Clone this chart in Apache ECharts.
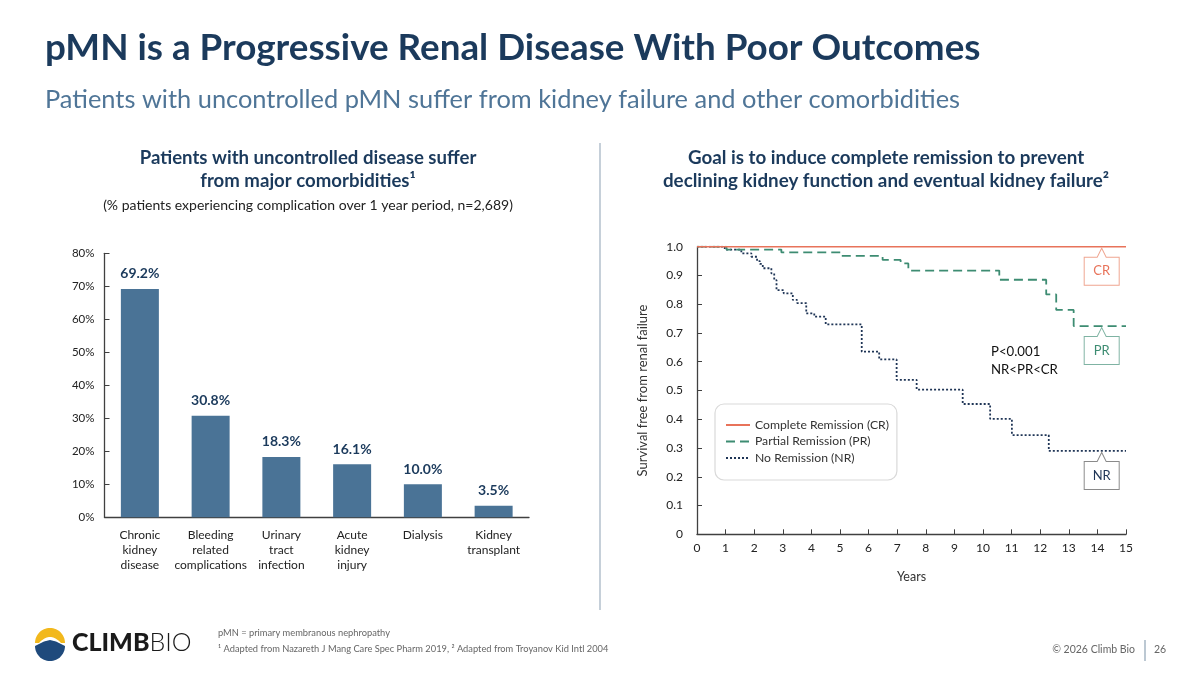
<!DOCTYPE html>
<html>
<head>
<meta charset="utf-8">
<script src="https://cdn.jsdelivr.net/npm/echarts@6/dist/echarts.min.js"></script>
<style>
html,body{margin:0;padding:0;background:#fff;}
#c{width:1200px;height:675px;}
</style>
</head>
<body>
<div id="c"></div>
<script>
// ---- data ----
const barCategories = ['Chronic\nkidney\ndisease', 'Bleeding\nrelated\ncomplications', 'Urinary\ntract\ninfection', 'Acute\nkidney\ninjury', 'Dialysis', 'Kidney\ntransplant'];
const barValues = [69.2, 30.8, 18.3, 16.1, 10.0, 3.5];

const crData = [[0, 1.0], [15, 1.0]];
const prData = [[0, 1.0], [1.03, 0.99], [2.95, 0.98], [5.02, 0.968], [6.49, 0.954], [7.12, 0.942], [7.39, 0.917], [10.57, 0.885], [12.21, 0.834], [12.56, 0.780], [13.17, 0.724], [15, 0.724]];
const nrData = [[0, 1.0], [0.97, 0.99], [1.55, 0.977], [1.9, 0.965], [2.1, 0.95], [2.2, 0.94], [2.3, 0.925], [2.6, 0.907], [2.7, 0.884], [2.78, 0.849], [3.03, 0.838], [3.35, 0.815], [3.5, 0.804], [3.82, 0.768], [4.1, 0.757], [4.5, 0.730], [5.76, 0.635], [6.37, 0.608], [6.98, 0.537], [7.68, 0.503], [9.29, 0.453], [10.25, 0.401], [11.01, 0.345], [12.30, 0.290], [15, 0.290]];
const seriesNames = ['Complete Remission (CR)', 'Partial Remission (PR)', 'No Remission (NR)'];
const calloutYear = 14.15;

const FONT = 'Lato';
const NAVY = '#1B3A5C';
const BAR = '#4A7396';
const CR_C = '#E8735A', PR_C = '#3D8C72', NR_C = '#1F3556';
const calloutPath = 'path://M0,9 L13,9 L17.5,0 L22,9 L35,9 L35,37 L0,37 Z';

function callout(name, coord, border, text) {
  return {
    symbol: calloutPath, symbolSize: [35, 37], symbolKeepAspect: false,
    symbolOffset: [0, 20], silent: true,
    itemStyle: { color: '#fff', borderColor: border, borderWidth: 1 },
    label: { show: true, position: 'inside', offset: [0, 4.5], formatter: '{b}', color: text, fontSize: 13, fontFamily: FONT },
    data: [{ name: name, coord: coord }]
  };
}

// logo shapes (decorative)
function logoYellow() {
  const pts = [];
  for (let i = 0; i <= 30; i++) { const a = Math.PI + Math.PI * i / 30; pts.push([50 + 15 * Math.cos(a), 643 + 15 * Math.sin(a)]); }
  for (let i = 0; i <= 20; i++) { const t = i / 20; const x = (1 - t) * (1 - t) * 61 + 2 * t * (1 - t) * 50 + t * t * 39; const y = (1 - t) * (1 - t) * 643 + 2 * t * (1 - t) * 631 + t * t * 643; pts.push([x, y]); }
  return pts;
}
function logoBlue() {
  const pts = [[35, 646], [44, 641.5], [50, 640], [56, 641.5], [65, 646]];
  for (let i = 1; i < 30; i++) { const a = Math.PI * i / 30; pts.push([50 + 15 * Math.cos(a), 646 + 15 * Math.sin(a)]); }
  return pts;
}

const chart = echarts.init(document.getElementById('c'), null, { renderer: 'canvas' });
chart.setOption({
  backgroundColor: '#fff',
  animation: false,
  textStyle: { fontFamily: FONT },
  grid: [
    { left: 104.5, right: 671, top: 253.3, bottom: 157.7, containLabel: false },
    { left: 697, right: 74, top: 246.7, bottom: 140.7, containLabel: false }
  ],
  xAxis: [
    { type: 'category', gridIndex: 0, data: barCategories,
      axisLine: { lineStyle: { color: '#404040', width: 1.3 } }, axisTick: { show: false },
      axisLabel: { color: '#222', fontSize: 12, lineHeight: 15, margin: 10, interval: 0 } },
    { type: 'value', gridIndex: 1, min: 0, max: 15, interval: 1,
      name: 'Years', nameLocation: 'middle', nameGap: 36, nameTextStyle: { color: '#333', fontSize: 12.5 },
      splitLine: { show: false },
      axisLine: { lineStyle: { color: '#404040', width: 1.3 } },
      axisTick: { inside: true, length: 5, lineStyle: { color: '#404040' } },
      axisLabel: { color: '#222', fontSize: 12, margin: 8 } }
  ],
  yAxis: [
    { type: 'value', gridIndex: 0, min: 0, max: 80, interval: 10,
      splitLine: { show: false },
      axisLine: { show: true, lineStyle: { color: '#404040', width: 1.3 } },
      axisTick: { show: true, inside: true, length: 5, lineStyle: { color: '#404040' } },
      axisLabel: { color: '#222', fontSize: 11.5, margin: 10, formatter: '{value}%' } },
    { type: 'value', gridIndex: 1, min: 0, max: 1, interval: 0.1,
      name: 'Survival free from renal failure', nameLocation: 'middle', nameGap: 48, nameRotate: 90,
      nameTextStyle: { color: '#333', fontSize: 13 },
      splitLine: { show: false },
      axisLine: { show: true, lineStyle: { color: '#404040', width: 1.3 } },
      axisTick: { show: true, inside: true, length: 5, lineStyle: { color: '#404040' } },
      axisLabel: { color: '#222', fontSize: 12, margin: 14, formatter: v => v === 0 ? '0' : v.toFixed(1) } }
  ],
  legend: {
    left: 715, top: 404, orient: 'vertical', itemWidth: 24, itemHeight: 14, itemGap: 4.5,
    padding: [15, 8, 16, 10], backgroundColor: '#fff', borderColor: '#d9d9d9', borderWidth: 1.2, borderRadius: 9,
    textStyle: { color: '#333', fontSize: 12.2, fontFamily: FONT },
    itemStyle: { opacity: 0 },
    data: seriesNames, selectedMode: false
  },
  series: [
    { type: 'bar', xAxisIndex: 0, yAxisIndex: 0, data: barValues, barWidth: 38,
      itemStyle: { color: BAR },
      label: { show: true, position: 'top', distance: 8, color: NAVY, fontWeight: 'bold', fontSize: 14,
        formatter: p => p.value.toFixed(1) + '%' } },
    { type: 'line', name: seriesNames[0], xAxisIndex: 1, yAxisIndex: 1, data: crData, step: 'end',
      symbol: 'none', lineStyle: { color: CR_C, width: 1.6 }, itemStyle: { color: CR_C }, z: 3,
      markPoint: callout('CR', [calloutYear, 1.0], '#EFA590', CR_C) },
    { type: 'line', name: seriesNames[1], xAxisIndex: 1, yAxisIndex: 1, data: prData, step: 'end',
      symbol: 'none', lineStyle: { color: PR_C, width: 1.8, type: [9, 5] }, itemStyle: { color: PR_C }, z: 2,
      markPoint: callout('PR', [calloutYear, 0.724], '#7FB3A3', PR_C) },
    { type: 'line', name: seriesNames[2], xAxisIndex: 1, yAxisIndex: 1, data: nrData, step: 'end',
      symbol: 'none', lineStyle: { color: NR_C, width: 1.8, type: [2, 2] }, itemStyle: { color: NR_C }, z: 1,
      markPoint: callout('NR', [calloutYear, 0.29], '#8a8a8a', NR_C) }
  ],
  graphic: [
    { type: 'text', x: 45, y: 30, style: { text: 'pMN is a Progressive Renal Disease With Poor Outcomes', fill: NAVY, font: 'bold 36.8px Lato' } },
    { type: 'text', x: 45, y: 87, style: { text: 'Patients with uncontrolled pMN suffer from kidney failure and other comorbidities', fill: '#4F7597', font: '25.4px Lato' } },
    { type: 'line', shape: { x1: 600, y1: 143, x2: 600, y2: 610 }, style: { stroke: '#9fb0c0', lineWidth: 1.2 } },
    { type: 'text', x: 308, y: 146, style: { text: 'Patients with uncontrolled disease suffer\nfrom major comorbidities\u00B9', fill: NAVY, font: 'bold 18.6px Lato', align: 'center', lineHeight: 23 } },
    { type: 'text', x: 308, y: 198, style: { text: '(% patients experiencing complication over 1 year period, n=2,689)', fill: '#222', font: '14px Lato', align: 'center' } },
    { type: 'text', x: 886, y: 146, style: { text: 'Goal is to induce complete remission to prevent\ndeclining kidney function and eventual kidney failure\u00B2', fill: NAVY, font: 'bold 18.8px Lato', align: 'center', lineHeight: 23 } },
    { type: 'text', x: 991, y: 343, style: { text: 'P<0.001\nNR<PR<CR', fill: '#111', font: '13.2px Lato', lineHeight: 18 } },
    { type: 'polygon', shape: { points: logoYellow() }, style: { fill: '#F2B81C' } },
    { type: 'polygon', shape: { points: logoBlue() }, style: { fill: '#1F4A7C' } },
    { type: 'text', x: 72, y: 630, style: { text: '{a|CLIMB}{b|BIO}', rich: { a: { font: '900 25px Lato', fill: '#1a1a1a' }, b: { font: '300 25px Lato', fill: '#1a1a1a' } } } },
    { type: 'text', x: 218, y: 628, style: { text: 'pMN = primary membranous nephropathy', fill: '#666', font: '9.3px Lato' } },
    { type: 'text', x: 218, y: 644, style: { text: '\u00B9 Adapted from Nazareth J Mang Care Spec Pharm 2019, \u00B2 Adapted from Troyanov Kid Intl 2004', fill: '#666', font: '9.3px Lato' } },
    { type: 'text', x: 1135, y: 644, style: { text: '\u00A9 2026 Climb Bio', fill: '#666', font: '10.5px Lato', align: 'right' } },
    { type: 'line', shape: { x1: 1145, y1: 640, x2: 1145, y2: 661 }, style: { stroke: '#8fa3b5', lineWidth: 1.2 } },
    { type: 'text', x: 1154, y: 644, style: { text: '26', fill: '#666', font: '10.5px Lato' } }
  ]
});
</script>
</body>
</html>
